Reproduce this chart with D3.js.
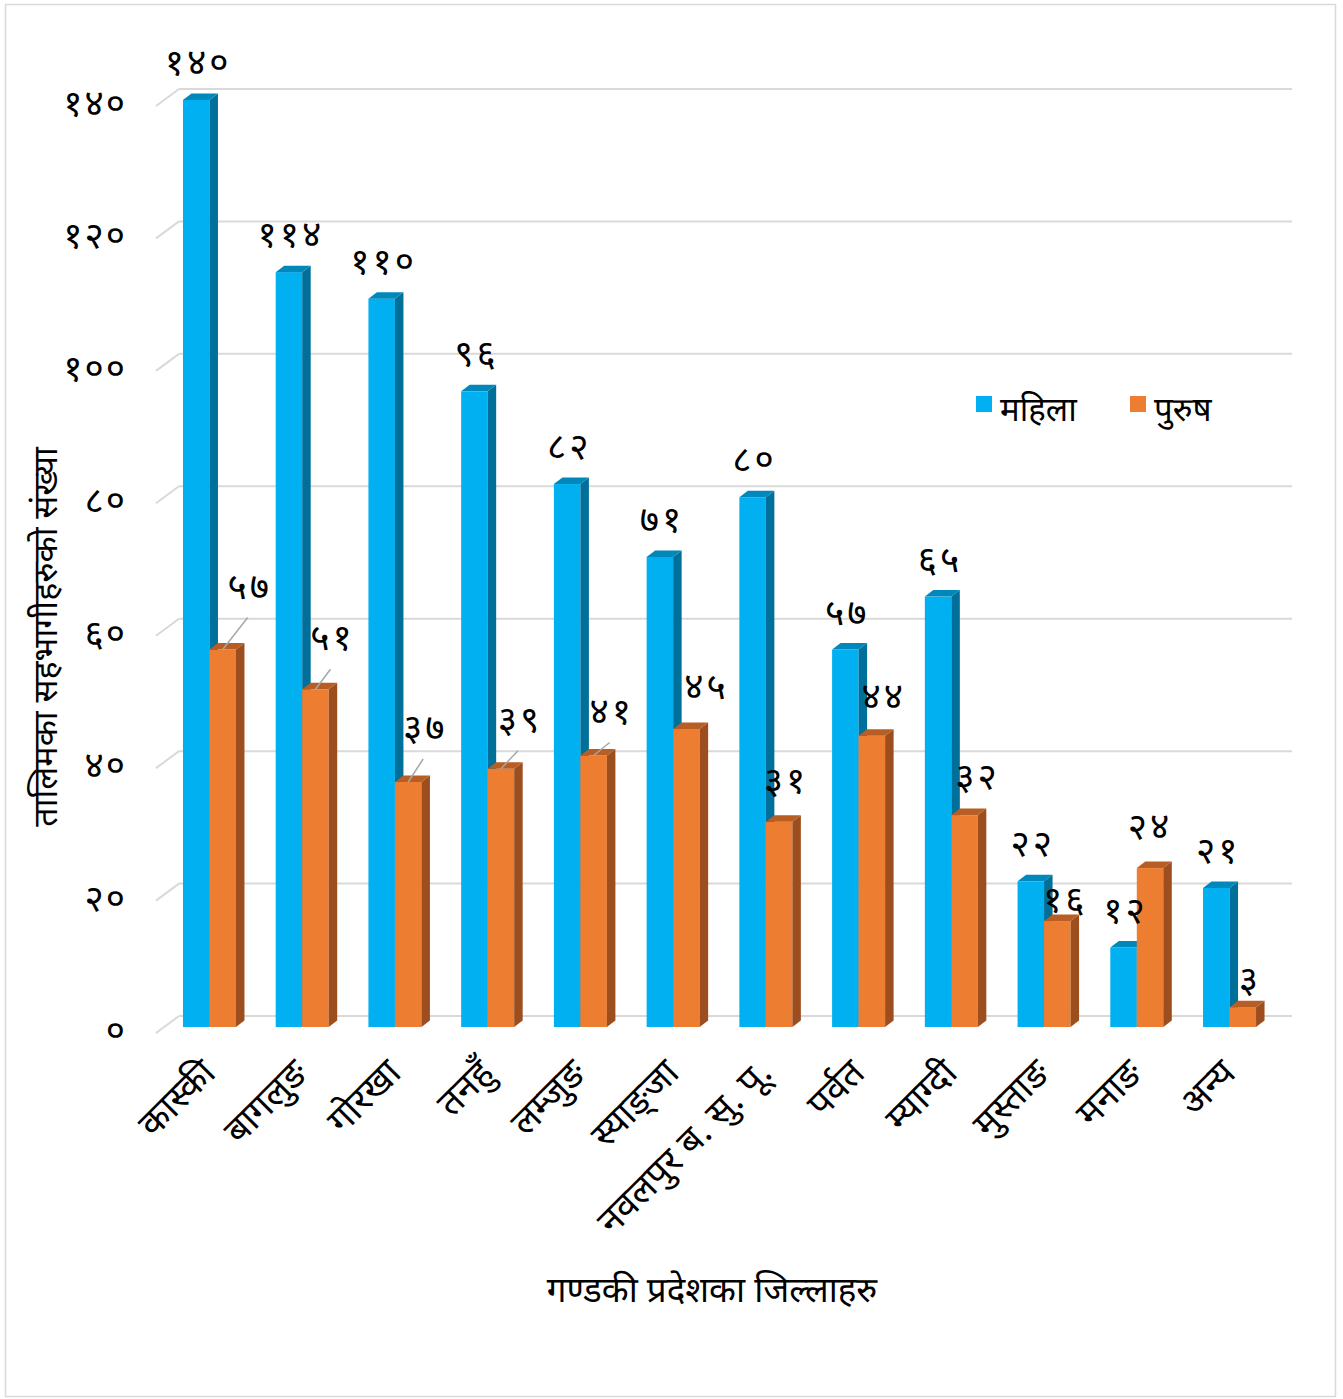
<!DOCTYPE html>
<html><head><meta charset="utf-8">
<script src="https://cdn.jsdelivr.net/npm/d3@7"></script>
<style>
html,body{margin:0;padding:0;background:#fff;}
text{font-family:"Noto Sans Devanagari","Lohit Devanagari","Mangal","Noto Sans",sans-serif;fill:#000;}
</style></head>
<body><svg id="c" width="1343" height="1399"></svg>
<script>
const categories = ["कास्की","बागलुङ","गोरखा","तनहुँ","लम्जुङ","स्याङ्जा","नवलपुर ब. सु. पू.","पर्वत","म्याग्दी","मुस्ताङ","मनाङ","अन्य"];
const women = [140,114,110,96,82,71,80,57,65,22,12,21];
const men = [57,51,37,39,41,45,31,44,32,16,24,3];
const yTicks = [0,20,40,60,80,100,120,140];
const seriesNames = ["महिला","पुरुष"];
const yTitle = "तालिमका सहभागीहरुको संख्या";
const xTitle = "गण्डकी प्रदेशका जिल्लाहरु";
// layout nudges for the men data labels (dx, dy from bar top centre)
const menLabelNudge = [[27,-63],[17,-51],[17,-54],[19,-49],[18,-44],[20,-42],[7,-41],[12,-39],[13,-38],[8,-21],[0,-41],[7,-27]];
const menLeader = [1,1,1,1,1,0,0,0,0,0,0,0];

const nep = s => String(s).replace(/[0-9]/g, d => "०१२३४५६७८९"[+d]);

const svg = d3.select("#c");
svg.append("rect").attr("x",5.5).attr("y",4.5).attr("width",1330).attr("height",1392)
  .attr("fill","#fff").attr("stroke","#d9d9d9").attr("stroke-width",1.5);

const y = d3.scaleLinear().domain([0,140]).range([1027,100]);
const x = d3.scaleBand().domain(categories).range([163.1,1275.9]).padding(0);
const bw = 26.5, dX = 8.5, dY = -6.5;
const wallDx = 23, wallDy = -11;
const numSize = 37;

const g = svg.append("g");
yTicks.forEach(t=>{
  const yy = y(t);
  g.append("line").attr("x1",156).attr("y1",yy+6).attr("x2",156+wallDx).attr("y2",yy+wallDy)
    .attr("stroke","#d9d9d9").attr("stroke-width",2);
  g.append("line").attr("x1",156+wallDx).attr("y1",yy+wallDy).attr("x2",1292).attr("y2",yy+wallDy)
    .attr("stroke","#d9d9d9").attr("stroke-width",2);
  svg.append("text").attr("x",127).attr("y",yy+7).attr("text-anchor","end")
    .attr("dominant-baseline","central").attr("font-size",numSize).attr("letter-spacing",2).text(nep(t));
});

function bar3d(x0, v, cols){
  const top = y(v), bot = y(0);
  const gb = svg.append("g");
  gb.append("rect").attr("x",x0).attr("y",top).attr("width",bw).attr("height",bot-top).attr("fill",cols[0]);
  gb.append("path").attr("d",`M${x0+bw},${top}L${x0+bw+dX},${top+dY}L${x0+bw+dX},${bot+dY}L${x0+bw},${bot}Z`).attr("fill",cols[1]);
  gb.append("path").attr("d",`M${x0},${top}L${x0+dX},${top+dY}L${x0+bw+dX},${top+dY}L${x0+bw},${top}Z`).attr("fill",cols[2]);
}
const blueC = ["#00B0F0","#006F99","#0088BC"];
const orC = ["#ED7D31","#9C4E1E","#B85E24"];

categories.forEach((c,i)=>{
  const cx = x(c) + x.bandwidth()/2;
  bar3d(cx-bw, women[i], blueC);
  bar3d(cx, men[i], orC);
});

categories.forEach((c,i)=>{
  const cx = x(c) + x.bandwidth()/2;
  const bcx = cx - bw/2 + 2, ocx = cx + bw/2;
  svg.append("text").attr("x",bcx).attr("y",y(women[i])-34).attr("text-anchor","middle")
    .attr("dominant-baseline","central").attr("font-size",numSize).attr("letter-spacing",3).text(nep(women[i]));
  const [ndx,ndy] = menLabelNudge[i];
  if(menLeader[i]){
    svg.append("line").attr("x1",ocx).attr("y1",y(men[i])).attr("x2",ocx+ndx-2).attr("y2",y(men[i])+ndy+31)
      .attr("stroke","#a6a6a6").attr("stroke-width",1.5);
  }
  svg.append("text").attr("x",ocx+ndx).attr("y",y(men[i])+ndy+3).attr("text-anchor","middle")
    .attr("dominant-baseline","central").attr("font-size",numSize).attr("letter-spacing",3).text(nep(men[i]));
  svg.append("text").attr("transform",`translate(${cx+8},${1075}) rotate(-45)`).attr("text-anchor","end")
    .attr("font-size",37).text(c);
});

svg.append("text").attr("transform","translate(57,637) rotate(-90)").attr("text-anchor","middle")
  .attr("font-size",34).text(yTitle);
svg.append("text").attr("x",712).attr("y",1302).attr("text-anchor","middle").attr("font-size",35).text(xTitle);

const lg = svg.append("g");
[[976,1000,"#00B0F0"],[1130,1154,"#ED7D31"]].forEach((d,i)=>{
  lg.append("rect").attr("x",d[0]).attr("y",396).attr("width",16).attr("height",16).attr("fill",d[2]);
  lg.append("text").attr("x",d[1]).attr("y",412).attr("dominant-baseline","central").attr("font-size",33).text(seriesNames[i]);
});
</script></body></html>
